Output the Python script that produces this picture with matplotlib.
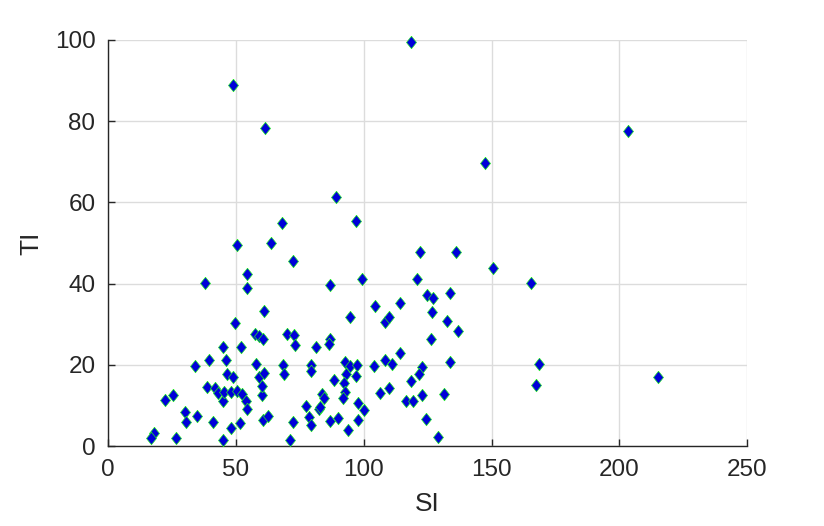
#!/usr/bin/env python3
import matplotlib
matplotlib.use("Agg")
import matplotlib.pyplot as plt
import numpy as np

# values (SI, TI)
si_high = [118.6, 48.9, 61.4, 203.5, 147.5, 89.2, 97.0, 68.0, 50.4, 63.7,
           121.9, 135.9, 72.4, 150.7, 165.5, 168.4, 167.2, 214.9]
ti_high = [99.4, 88.8, 78.2, 77.5, 69.7, 61.4, 55.5, 55.0, 49.6, 50.0,
           47.8, 47.8, 45.5, 43.8, 40.2, 20.2, 15.1, 16.9]

si_left = [54.5, 38.0, 54.5, 61.1, 49.8, 57.6, 59.2, 60.5, 45.1, 52.1,
           34.1, 39.5, 46.1, 57.9, 46.6, 48.9, 59.0, 61.2, 38.9, 41.9,
           43.2, 45.1, 45.5, 48.1, 50.4, 52.5, 54.1, 54.5, 60.3, 60.3,
           22.5, 25.4, 30.3, 30.7, 34.9, 41.2, 51.7, 48.1, 60.6, 62.4,
           17.9, 16.7, 26.7, 44.8]
ti_left = [42.4, 40.1, 38.8, 33.3, 30.4, 27.6, 27.0, 26.3, 24.3, 24.5,
           19.8, 21.1, 21.1, 20.1, 17.8, 17.0, 16.9, 18.1, 14.5, 14.4,
           13.0, 11.2, 13.4, 13.4, 13.6, 12.9, 11.2, 9.2, 12.5, 14.9,
           11.4, 12.6, 8.3, 5.9, 7.3, 5.8, 5.7, 4.4, 6.4, 7.5,
           3.2, 1.9, 2.0, 1.5]

si_mid = [86.8, 99.5, 104.6, 108.5, 109.8, 94.8, 70.0, 72.6, 73.3, 81.5,
          87.0, 86.3, 68.3, 68.9, 79.5, 79.4, 92.8, 94.8, 97.4, 93.2,
          97.1, 88.5, 92.4, 92.8, 91.9, 83.7, 84.6, 77.6, 82.4, 83.0,
          78.5, 79.5, 72.4, 87.0, 89.8, 93.7, 97.6, 100.0, 97.8, 71.0,
          103.9, 108.5, 106.5, 109.8]
ti_mid = [39.7, 41.1, 34.5, 30.6, 31.7, 31.8, 27.6, 27.4, 24.9, 24.3,
          26.3, 25.2, 19.9, 17.8, 20.0, 18.4, 20.6, 19.8, 20.0, 17.8,
          17.3, 16.3, 15.5, 13.2, 11.8, 12.9, 11.8, 9.9, 9.1, 9.6,
          7.1, 5.1, 5.8, 6.1, 6.9, 4.0, 10.7, 8.9, 6.5, 1.4,
          19.8, 21.2, 13.0, 14.3]

si_right = [114.0, 111.2, 122.6, 121.8, 118.3, 133.6, 116.7, 119.2, 122.9, 131.3,
            124.2, 128.9, 126.4, 120.9, 124.8, 127.2, 133.8, 114.0, 126.8, 132.4,
            137.0]
ti_right = [23.0, 20.2, 19.4, 17.8, 16.1, 20.7, 11.2, 11.2, 12.5, 12.8,
            6.7, 2.3, 26.4, 41.1, 37.2, 36.4, 37.8, 35.3, 33.1, 30.9,
            28.4]

si = np.array(si_high + si_left + si_mid + si_right)
ti = np.array(ti_high + ti_left + ti_mid + ti_right)

x_ticks = [0, 50, 100, 150, 200, 250]
y_ticks = [0, 20, 40, 60, 80, 100]

plt.rcParams['font.family'] = ['Liberation Sans', 'DejaVu Sans']

fig = plt.figure(figsize=(8.24, 5.26), dpi=100)
ax = fig.add_axes([0.131, 0.152, 0.776, 0.772])

diamond = [(0, 1), (0.8, 0), (0, -1), (-0.8, 0), (0, 1)]
ax.plot(si, ti, linestyle="none", marker=diamond, markersize=9,
        markerfacecolor="#0000d8", markeredgecolor="#22ee22", markeredgewidth=0.5,
        clip_on=False, zorder=3)

ax.set_xlim(0, 250)
ax.set_ylim(0, 100)
ax.set_xticks(x_ticks)
ax.set_yticks(y_ticks)
ax.grid(True, color="#dcdcdc", linewidth=1.0)
ax.set_axisbelow(True)

for side in ["top", "right"]:
    ax.spines[side].set_visible(False)
for side in ["left", "bottom"]:
    ax.spines[side].set_color("#262626")
    ax.spines[side].set_linewidth(1.0)

ax.tick_params(direction="in", length=5, width=1, colors="#262626",
               labelsize=17.5, pad=9)

ax.set_xlabel("SI", fontsize=19, color="#262626", labelpad=8)
ax.set_ylabel("TI", fontsize=19, color="#262626", labelpad=8)

fig.savefig("out.png", dpi=100)
